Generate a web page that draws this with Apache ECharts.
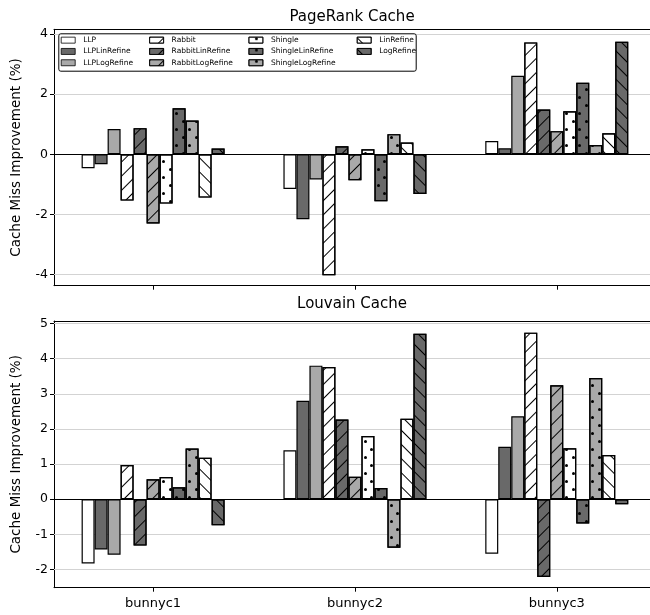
<!DOCTYPE html>
<html><head><meta charset="utf-8">
<script src="https://cdn.jsdelivr.net/npm/echarts@6/dist/echarts.min.js"></script>
<style>html,body{margin:0;padding:0;background:#fff}#c{width:650px;height:615px}</style>
</head><body><div id="c"></div>
<script>
const categories = ['bunnyc1', 'bunnyc2', 'bunnyc3'];
const seriesNames = ['LLP', 'LLPLinRefine', 'LLPLogRefine', 'Rabbit', 'RabbitLinRefine', 'RabbitLogRefine',
  'Shingle', 'ShingleLinRefine', 'ShingleLogRefine', 'LinRefine', 'LogRefine'];
// values per category, in seriesNames order
const pageRankBunnyc1 = [-0.46, -0.33, 0.84, -1.54, 0.87, -2.30, -1.64, 1.53, 1.12, -1.44, 0.19];
const pageRankBunnyc2 = [-1.15, -2.16, -0.84, -4.02, 0.27, -0.86, 0.17, -1.56, 0.67, 0.39, -1.32];
const pageRankBunnyc3 = [0.44, 0.20, 2.61, 3.72, 1.49, 0.77, 1.43, 2.38, 0.31, 0.70, 3.74];
const louvainBunnyc1 = [-1.83, -1.43, -1.58, 0.97, -1.32, 0.57, 0.63, 0.34, 1.44, 1.18, -0.74];
const louvainBunnyc2 = [1.39, 2.80, 3.80, 3.76, 2.27, 0.64, 1.80, 0.32, -1.38, 2.29, 4.71];
const louvainBunnyc3 = [-1.55, 1.49, 2.36, 4.74, -2.21, 3.24, 1.45, -0.69, 3.45, 1.26, -0.14];
const pageRankTicks = [-4, -2, 0, 2, 4];
const louvainTicks = [-2, -1, 0, 1, 2, 3, 4, 5];
const categoryTicks = [0, 1, 2];

// styles
const WHITE = '#ffffff', DARK = '#696969', LIGHT = '#a9a9a9';
const fills = [WHITE, DARK, LIGHT, WHITE, DARK, LIGHT, WHITE, DARK, LIGHT, WHITE, DARK];
const hatches = [null, null, null, '/', '/', '/', '.', '.', '.', '\\', '\\'];
const FONT = 'DejaVu Sans';

function decalFor(h) {
  if (h === '.') return {symbol: 'circle', symbolSize: 1, color: '#000',
    dashArrayX: [[2.4, 9.6], [0, 6, 2.4, 3.6]], dashArrayY: [2.4, 4.6], rotation: 0};
  return {symbol: 'rect', symbolSize: 1, color: '#000', dashArrayX: [[1, 0]], dashArrayY: [1, 9],
    rotation: h === '/' ? -Math.PI / 4 : Math.PI / 4};
}

function makeSeries(plot, rows, ticks) {
  return seriesNames.map((name, i) => {
    const s = {
      name, type: 'bar', xAxisIndex: plot * 2, yAxisIndex: plot,
      data: rows.map((row, c) => [c, row[i]]),
      barWidth: 13, barGap: '0%',
      itemStyle: {color: fills[i], borderColor: '#000', borderWidth: 1.2},
      emphasis: {disabled: true}, silent: true
    };
    if (hatches[i]) s.itemStyle.decal = decalFor(hatches[i]);
    if (i === 0) s.markLine = {silent: true, symbol: 'none', z: 1, animation: false, label: {show: false},
      data: ticks.filter(v => v !== 0).map(v => ({yAxis: v, lineStyle: {color: '#d3d3d3', width: 1, type: 'solid'}}))};
    if (i === 1) s.markLine = {silent: true, symbol: 'none', z: 6, animation: false, label: {show: false},
      data: [{yAxis: 0, lineStyle: {color: '#000', width: 1, type: 'solid'}}]};
    return s;
  });
}

const X_MIN = -0.491, X_MAX = 2.462;
function xAxes(grid, withLabels) {
  return [{
    gridIndex: grid, type: 'value', min: X_MIN, max: X_MAX, position: 'bottom',
    axisLine: {show: true, onZero: false, lineStyle: {color: '#000', width: 1}},
    axisTick: {show: true, customValues: categoryTicks, length: 4, lineStyle: {color: '#000'}},
    axisLabel: {show: withLabels, customValues: categoryTicks, formatter: v => categories[Math.round(v)],
      fontSize: 13, fontFamily: FONT, color: '#000', margin: 9},
    splitLine: {show: false}
  }, {
    gridIndex: grid, type: 'value', min: X_MIN, max: X_MAX, position: 'top',
    axisLine: {show: true, onZero: false, lineStyle: {color: '#000', width: 1}},
    axisTick: {show: false}, axisLabel: {show: false}, splitLine: {show: false}
  }];
}
function yAxis(grid, min, max, ticks) {
  return {
    gridIndex: grid, type: 'value', min, max,
    axisLine: {show: true, onZero: false, lineStyle: {color: '#000', width: 1}},
    axisTick: {show: true, customValues: ticks, length: 4, lineStyle: {color: '#000'}},
    axisLabel: {customValues: ticks, fontSize: 12.5, fontFamily: FONT, color: '#000', margin: 6},
    splitLine: {show: false},
    name: 'Cache Miss Improvement (%)', nameLocation: 'middle', nameGap: 31,
    nameTextStyle: {fontSize: 13.5, fontFamily: FONT, color: '#000'}
  };
}

const legendCols = [seriesNames.slice(0, 3), seriesNames.slice(3, 6), seriesNames.slice(6, 9), seriesNames.slice(9)];
const legendLeft = [60.8, 149.2, 248.5, 356.8];

const option = {
  animation: false,
  backgroundColor: '#fff',
  title: [
    {text: 'PageRank Cache', left: 352, top: 10, textAlign: 'center', padding: 0,
      textStyle: {fontSize: 15, fontWeight: 'normal', fontFamily: FONT, color: '#000'}},
    {text: 'Louvain Cache', left: 352, top: 297, textAlign: 'center', padding: 0,
      textStyle: {fontSize: 15, fontWeight: 'normal', fontFamily: FONT, color: '#000'}}
  ],
  grid: [
    {left: 54, right: 0, top: 29.3, height: 256.4},
    {left: 54, right: 0, top: 321, height: 266.7}
  ],
  xAxis: [...xAxes(0, false), ...xAxes(1, true)],
  yAxis: [yAxis(0, -4.369, 4.156, pageRankTicks), yAxis(1, -2.518, 5.071, louvainTicks)],
  legend: legendCols.map((names, k) => ({
    data: names, orient: 'vertical', left: legendLeft[k], top: 34.5, padding: 0, itemGap: 0,
    itemWidth: 14, itemHeight: 6, icon: 'rect', selectedMode: false,
    itemStyle: {borderWidth: 0.8},
    textStyle: {fontSize: 7.5, fontFamily: FONT, color: '#000', lineHeight: 11.3, padding: [0, 0, 0, 3]}
  })),
  graphic: [{
    type: 'rect', left: 58.3, top: 33.3, z: 3,
    shape: {width: 357.4, height: 37.4, r: 2},
    style: {fill: '#fff', stroke: '#000', lineWidth: 1}
  }],
  series: [
    ...makeSeries(0, [pageRankBunnyc1, pageRankBunnyc2, pageRankBunnyc3], pageRankTicks),
    ...makeSeries(1, [louvainBunnyc1, louvainBunnyc2, louvainBunnyc3], louvainTicks)
  ]
};
const chart = echarts.init(document.getElementById('c'), null, {renderer: 'canvas'});
chart.setOption(option);
</script></body></html>
